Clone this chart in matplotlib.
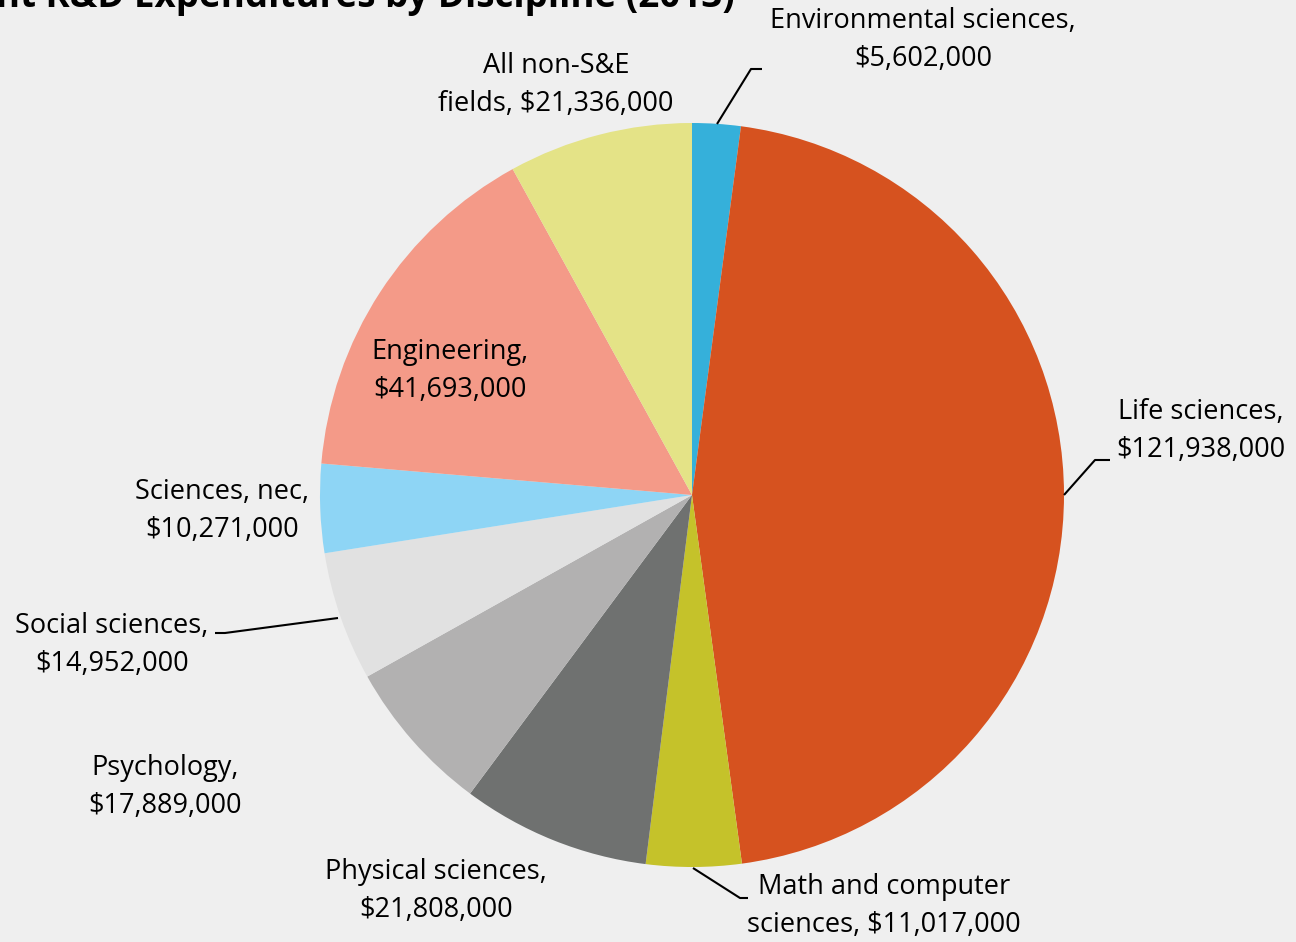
import matplotlib.pyplot as plt
import numpy as np

# data, clockwise from 12 o'clock
disciplines = ['Environmental sciences', 'Life sciences', 'Math and computer sciences',
               'Physical sciences', 'Psychology', 'Social sciences', 'Sciences, nec',
               'Engineering', 'All non-S&E fields']
spending = [5602000, 121938000, 11017000, 21808000, 17889000, 14952000, 10271000,
            41693000, 21336000]
colors = ['#35B0DA', '#D6521F', '#C5C22A', '#6F7170', '#B2B1B1', '#E1E1E1', '#8ED5F5',
          '#F49A88', '#E4E387']

W, H = 1296, 942
bg = '#EFEFEF'
plt.rcParams['font.family'] = ['Open Sans', 'DejaVu Sans']

fig = plt.figure(figsize=(W / 100, H / 100), dpi=100, facecolor=bg)
ax = fig.add_axes([0, 0, 1, 1])

cx, cy, r = 692, H - 495, 372
wedges, _ = ax.pie(spending, colors=colors, startangle=90, counterclock=False,
                   center=(cx, cy), radius=r, frame=True,
                   wedgeprops=dict(linewidth=0))
ax.set_xlim(0, W)
ax.set_ylim(0, H)
ax.set_aspect('equal')
ax.axis('off')

# label text templates (where the line break goes differs per label)
label_text = [
    'Environmental sciences,\n${:,}',
    'Life sciences,\n${:,}',
    'Math and computer\nsciences, ${:,}',
    'Physical sciences,\n${:,}',
    'Psychology,\n${:,}',
    'Social sciences,\n${:,}',
    'Sciences, nec,\n${:,}',
    'Engineering,\n${:,}',
    'All non-S&E\nfields, ${:,}',
]
# label centres, pixels from top-left
label_pos = [(923, 40), (1201, 431), (884, 906), (436, 891), (165, 787),
             (112, 645), (222, 511), (450, 371), (556, 85)]

for txt, v, (px, py) in zip(label_text, spending, label_pos):
    ax.text(px, H - py, txt.format(v), ha='center', va='center', fontsize=19.5,
            color='black', linespacing=1.5)

# leader lines: wedge edge -> elbow -> label (pixels)
leaders = [
    [(717, 124), (751, 69), (762, 69)],
    [(1064, 495), (1095, 460), (1110, 460)],
    [(693, 868), (740, 898), (748, 898)],
    [(338, 618), (225, 633), (215, 633)],
]
for pts in leaders:
    xs = [p[0] for p in pts]
    ys = [H - p[1] for p in pts]
    ax.plot(xs, ys, color='black', lw=1.5, solid_capstyle='butt')

# title, clipped at the top edge like the source
ax.text(735, H - 7, 'Department R&D Expenditures by Discipline (2013)', ha='right',
        va='baseline', fontsize=26.5, fontweight='bold', color='black')

fig.savefig('out.png', dpi=100, facecolor=bg)
